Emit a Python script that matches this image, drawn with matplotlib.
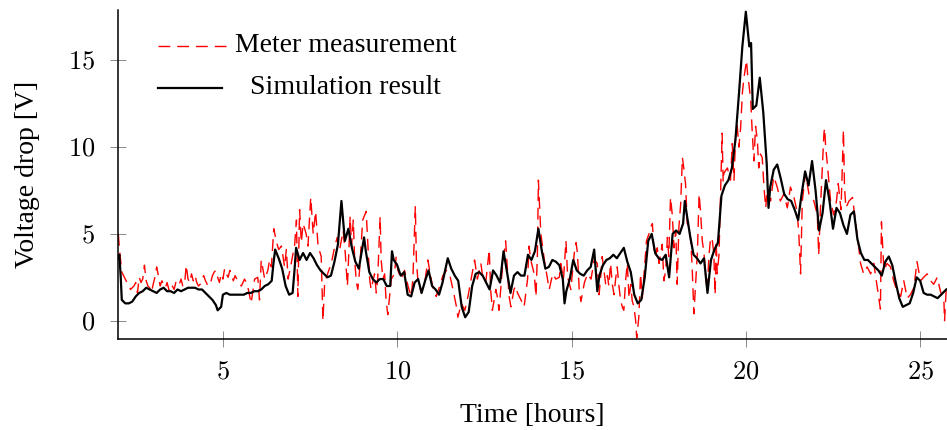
import matplotlib
matplotlib.use("Agg")
import matplotlib.pyplot as plt
from matplotlib.lines import Line2D
from matplotlib.ticker import FixedLocator, FuncFormatter

# ---- data (hours, volts) ----
meter_t = [2.00, 2.03, 2.07, 2.10, 2.15, 2.20, 2.25, 2.30, 2.35, 2.40, 2.45, 2.50, 2.55, 2.60, 2.65, 2.70,
           2.75, 2.80, 2.85, 2.90, 2.95, 3.00, 3.05, 3.10, 3.15, 3.20, 3.25, 3.30, 3.35, 3.40, 3.45, 3.50,
           3.55, 3.60, 3.65, 3.70, 3.75, 3.80, 3.85, 3.90, 3.95, 4.00, 4.05, 4.10, 4.15, 4.20, 4.25, 4.30,
           4.35, 4.40, 4.45, 4.50, 4.55, 4.60, 4.65, 4.70, 4.75, 4.80, 4.85, 4.90, 4.95, 5.00, 5.05, 5.10,
           5.15, 5.20, 5.25, 5.30, 5.35, 5.40,
           5.45, 5.53, 5.62, 5.70, 5.77, 5.81, 5.91, 6.00, 6.05, 6.10, 6.20, 6.29, 6.34, 6.39, 6.46, 6.53,
           6.60, 6.68, 6.77, 6.82, 6.87, 6.96, 7.06, 7.11, 7.15, 7.20, 7.25, 7.30, 7.39, 7.44, 7.52, 7.59,
           7.66, 7.73, 7.82, 7.87, 7.92, 8.02, 8.11, 8.21, 8.28, 8.35, 8.45, 8.51, 8.57, 8.59, 8.65, 8.69,
           8.74, 8.78, 8.83,
           8.87, 8.92, 9.01, 9.11, 9.21, 9.25, 9.35, 9.40, 9.44, 9.51, 9.54, 9.59, 9.64, 9.68, 9.73, 9.78,
           9.83, 9.92, 9.97, 10.02, 10.12, 10.21, 10.31, 10.40, 10.45, 10.52, 10.55, 10.59, 10.69, 10.79,
           10.88, 10.93, 11.03, 11.12, 11.22, 11.31, 11.41, 11.50, 11.60, 11.70, 11.74, 11.84, 11.94, 12.03,
           12.13, 12.22,
           12.30, 12.40, 12.44, 12.54, 12.64, 12.68, 12.73, 12.83, 12.87, 12.92, 13.02, 13.11, 13.21, 13.26,
           13.35, 13.40, 13.45, 13.55, 13.64, 13.69, 13.74, 13.78, 13.83, 13.93, 13.98, 14.02, 14.05, 14.12,
           14.22, 14.31, 14.36, 14.46, 14.55, 14.65, 14.69, 14.77, 14.84, 14.89, 14.98, 15.08, 15.13, 15.17,
           15.22, 15.27, 15.37, 15.46, 15.56, 15.65,
           15.74, 15.79, 15.84, 15.88, 15.98, 16.03, 16.07, 16.12, 16.17, 16.22, 16.27, 16.31, 16.36, 16.41,
           16.46, 16.50, 16.55, 16.60, 16.65, 16.70, 16.74, 16.79, 16.84, 16.87, 16.93, 16.98, 17.03, 17.08,
           17.15, 17.22, 17.27, 17.32, 17.36, 17.41, 17.46, 17.51, 17.56, 17.60, 17.65, 17.70, 17.75, 17.79,
           17.84, 17.89, 17.94, 17.99, 18.03, 18.08, 18.13, 18.18, 18.22, 18.27, 18.32, 18.37, 18.42, 18.46,
           18.51, 18.56, 18.61, 18.66, 18.70, 18.75, 18.80, 18.85, 18.89, 18.94, 18.99, 19.04, 19.08, 19.12,
           19.15,
           19.18, 19.23, 19.32, 19.35, 19.37, 19.47, 19.56, 19.61, 19.66, 19.71, 19.75, 19.80, 19.85, 19.90,
           19.94, 20.02, 20.05, 20.09, 20.14, 20.18, 20.23, 20.28, 20.33, 20.37, 20.42, 20.47, 20.52, 20.57,
           20.61, 20.71, 20.80, 20.90, 20.99, 21.09, 21.19, 21.28, 21.38, 21.47, 21.52, 21.57, 21.62, 21.71,
           21.81, 21.95, 22.05, 22.09, 22.14, 22.24, 22.26, 22.29, 22.33, 22.43, 22.52, 22.60, 22.65, 22.73,
           22.80, 22.83, 22.87, 22.96, 23.06, 23.15, 23.19, 23.24, 23.29, 23.38, 23.48, 23.58, 23.67, 23.77,
           23.81, 23.86, 23.89, 23.96, 24.05, 24.15, 24.24, 24.34, 24.44, 24.53, 24.63, 24.72, 24.82, 24.91,
           25.01, 25.10, 25.20, 25.30, 25.39, 25.49, 25.58, 25.68, 25.70, 25.75]
meter_v = [5.0, 4.2, 3.4, 2.8, 2.6, 2.4, 2.2, 2.1, 1.8, 1.9, 2.0, 2.2, 1.6, 2.5, 2.2, 2.4,
           3.2, 2.3, 2.0, 1.9, 1.6, 2.1, 2.5, 3.1, 2.6, 2.0, 2.3, 2.1, 1.9, 2.2, 1.8, 2.1,
           2.0, 1.8, 2.2, 2.0, 2.1, 2.4, 2.0, 2.1, 3.2, 2.4, 2.2, 2.7, 2.3, 2.6, 2.2, 2.0,
           2.1, 2.4, 2.6, 2.3, 2.1, 2.0, 2.2, 2.6, 2.8, 2.9, 2.5, 2.2, 2.7, 2.4, 3.0, 2.7,
           2.5, 2.9, 2.6, 2.3, 2.6, 2.4,
           2.2, 2.0, 2.4, 2.1, 1.4, 1.0, 2.4, 2.5, 1.2, 3.5, 2.4, 2.9, 3.5, 3.1, 5.3, 4.6,
           4.1, 4.3, 3.1, 4.1, 2.4, 3.3, 4.4, 5.8, 1.4, 6.4, 4.5, 5.6, 5.0, 4.3, 7.1, 5.0,
           6.3, 4.3, 3.7, 0.0, 2.2, 2.8, 3.3, 4.3, 4.8, 4.1, 5.2, 3.9, 2.0, 2.8, 6.0, 4.3,
           5.8, 3.5, 2.2,
           1.8, 2.9, 5.8, 6.3, 2.4, 1.8, 2.7, 1.6, 2.4, 6.0, 3.5, 2.4, 2.7, 1.2, 0.35, 1.4,
           2.4, 2.7, 3.7, 2.9, 2.4, 2.9, 2.0, 1.4, 2.4, 6.6, 3.5, 2.4, 1.6, 2.2,
           3.5, 2.9, 1.8, 1.4, 2.0, 2.6, 2.9, 2.7, 1.8, 0.8, 0.2, 1.0, 0.6, 1.4,
           2.5, 3.5,
           2.4, 3.3, 2.7, 2.2, 4.1, 1.8, 0.6, 1.8, 1.4, 0.6, 3.1, 4.6, 1.4, 0.8,
           1.8, 2.0, 1.6, 1.2, 0.8, 1.6, 2.4, 4.3, 3.5, 2.7, 1.4, 3.7, 8.1, 5.0,
           3.5, 2.4, 1.8, 2.7, 2.4, 2.5, 3.3, 2.4, 4.6, 2.5, 1.8, 3.9, 4.5, 3.9,
           1.8, 1.1, 2.2, 2.7, 2.4, 3.5,
           3.3, 1.5, 2.6, 3.7, 2.1, 2.6, 2.0, 3.3, 2.1, 1.5, 2.5, 3.1, 2.0, 1.15,
           0.77, 0.6, 2.3, 3.3, 1.3, 2.1, 1.15, 0.8, 0.0, -1.0, 0.2, 2.7, 1.3, 2.7,
           4.6, 5.0, 5.4, 5.6, 4.2, 3.7, 4.2, 3.3, 3.9, 4.4, 2.3, 2.9, 4.8, 3.7,
           7.1, 6.1, 4.2, 5.2, 2.1, 5.4, 6.7, 9.4, 8.8, 7.9, 5.6, 5.4, 4.6, 3.1,
           0.4, 2.1, 3.9, 7.3, 6.3, 4.6, 3.9, 2.5, 1.7, 3.7, 4.8, 4.6, 3.9, 1.5,
           4.6,
           2.7, 3.8, 10.8, 8.0, 8.5, 8.8, 8.1, 10.2, 8.1, 10.8, 11.3, 10.0, 11.1, 13.1,
           13.9, 15.0, 14.2, 13.6, 12.7, 11.0, 9.2, 11.2, 10.4, 8.8, 9.6, 9.4, 7.7, 6.5,
           7.5, 6.9, 8.3, 7.7, 6.9, 7.3, 6.5, 7.7, 7.1, 6.3, 5.0, 2.7, 6.9, 8.5,
           7.3, 6.9, 6.1, 3.8, 6.5, 10.8, 11.1, 10.0, 9.2, 6.9, 6.1, 6.9, 7.9, 6.4,
           11.0, 7.7, 6.5, 6.9, 7.1, 5.6, 5.0, 4.2, 3.3, 2.7, 3.1, 2.7, 3.3, 1.9,
           1.3, 0.67, 5.7, 2.9, 3.3, 3.1, 2.3, 1.7, 1.4, 2.3, 1.3, 1.5, 1.9, 3.4,
           2.3, 2.5, 2.7, 2.3, 2.1, 2.5, 1.7, 1.2, 0.0, 1.9]

sim_t = [2.00, 2.03, 2.07, 2.10, 2.20, 2.30, 2.40, 2.50, 2.60, 2.70, 2.80, 2.90, 3.00, 3.10, 3.20, 3.30,
         3.40, 3.50, 3.60, 3.70, 3.80, 3.90, 4.00, 4.10, 4.20, 4.30, 4.40, 4.50, 4.60, 4.70, 4.80, 4.85,
         4.90, 4.95, 5.00, 5.10, 5.20, 5.30, 5.40, 5.50, 5.60, 5.70, 5.80, 5.90, 6.00, 6.10, 6.20, 6.30,
         6.40, 6.45, 6.50, 6.60, 6.70, 6.80, 6.90, 7.00, 7.05, 7.10, 7.20, 7.30, 7.40, 7.50, 7.60, 7.70,
         7.80, 7.90, 8.00, 8.10, 8.20, 8.30, 8.40, 8.50, 8.60, 8.70, 8.80, 8.90, 9.00, 9.05, 9.10, 9.20,
         9.30, 9.40, 9.50, 9.60, 9.70, 9.80, 9.85, 9.90, 10.00, 10.10, 10.20, 10.30, 10.40, 10.50, 10.60,
         10.70, 10.80, 10.90, 11.00, 11.10, 11.20, 11.30, 11.45, 11.55, 11.65, 11.75, 11.85, 11.95, 12.05,
         12.15, 12.25, 12.35, 12.45, 12.55, 12.65, 12.75, 12.85, 12.95, 13.05, 13.15, 13.25, 13.35, 13.45,
         13.55, 13.65, 13.75, 13.85, 13.95, 14.05, 14.15, 14.25, 14.35, 14.45, 14.55, 14.65, 14.75, 14.80,
         14.85, 14.95, 15.05, 15.15, 15.25, 15.35, 15.45, 15.55, 15.65, 15.74, 15.80, 15.90, 16.00, 16.10,
         16.20, 16.30, 16.40, 16.50, 16.60, 16.70, 16.80, 16.90, 17.00, 17.10, 17.20, 17.30, 17.40, 17.50,
         17.60, 17.70, 17.80, 17.90, 18.00, 18.10, 18.20, 18.25, 18.30, 18.40, 18.50, 18.60, 18.70, 18.80,
         18.90, 19.00, 19.10, 19.20, 19.30, 19.40, 19.50, 19.60, 19.70, 19.80, 19.90, 20.00, 20.05, 20.10,
         20.15, 20.20, 20.30, 20.40, 20.50, 20.60, 20.65, 20.70, 20.80, 20.90, 21.00, 21.10, 21.20, 21.30,
         21.40, 21.50, 21.60, 21.70, 21.80, 21.90, 22.00, 22.10, 22.20, 22.30, 22.40, 22.50, 22.60, 22.70,
         22.80, 22.90, 23.00, 23.10, 23.20, 23.30, 23.40, 23.50, 23.60, 23.70, 23.80, 23.90, 24.00, 24.10,
         24.20, 24.30, 24.40, 24.50, 24.60, 24.70, 24.80, 24.90, 25.00, 25.10, 25.20, 25.30, 25.40, 25.50,
         25.60, 25.70, 25.75]
sim_v = [3.6, 3.8, 2.5, 1.2, 1.0, 1.0, 1.1, 1.4, 1.6, 1.7, 1.9, 1.8, 1.7, 1.6, 1.8, 1.9,
         1.7, 1.7, 1.6, 1.8, 1.7, 1.8, 1.9, 1.9, 1.9, 1.8, 1.8, 1.6, 1.4, 1.2, 0.9, 0.6,
         0.7, 0.8, 1.5, 1.6, 1.5, 1.5, 1.5, 1.5, 1.5, 1.6, 1.6, 1.7, 1.7, 1.8, 2.0, 2.1,
         2.3, 3.3, 4.1, 3.6, 3.0, 2.0, 1.5, 1.6, 2.8, 4.2, 3.5, 3.9, 3.5, 3.9, 3.6, 3.2,
         2.9, 2.7, 2.5, 2.6, 3.4, 4.4, 6.9, 4.6, 5.3, 4.2, 3.4, 3.0, 4.2, 4.8, 4.0, 2.8,
         2.4, 2.2, 2.4, 2.4, 2.0, 2.0, 4.0, 3.5, 3.2, 2.6, 2.8, 1.5, 1.4, 2.2, 2.4,
         1.6, 2.3, 2.9, 2.0, 1.8, 1.5, 2.2, 3.6, 3.0, 2.6, 2.3, 0.8, 0.2, 0.5,
         2.0, 2.7, 2.8, 2.6, 2.2, 1.8, 2.9, 2.6, 2.2, 4.0, 2.8, 1.6, 2.6, 2.8,
         2.6, 2.6, 3.8, 3.5, 4.0, 5.3, 4.0, 3.0, 3.1, 3.5, 3.4, 3.2, 2.4, 1.0,
         1.7, 2.4, 3.5, 2.9, 2.7, 2.6, 2.9, 3.1, 4.1, 1.7, 2.6, 3.2, 3.5, 3.6,
         3.8, 3.6, 3.9, 4.2, 3.4, 2.8, 1.5, 1.0, 1.2, 2.5, 4.6, 5.0, 3.9, 3.6,
         3.5, 3.8, 2.5, 5.0, 5.2, 5.0, 5.6, 6.9, 6.2, 4.9, 3.8, 3.6, 3.3, 3.6,
         1.6, 3.5, 4.1, 4.5, 7.2, 7.8, 8.1, 8.8, 10.4, 13.0, 15.8, 17.8, 16.8, 15.8,
         16.0, 12.2, 12.4, 14.0, 12.0, 9.0, 6.5, 7.7, 8.7, 9.0, 8.2, 7.3, 7.0, 6.9,
         6.4, 5.8, 7.3, 8.6, 7.8, 9.2, 7.5, 5.2, 6.2, 8.1, 6.9, 5.3, 6.5, 6.2,
         5.5, 5.0, 6.1, 6.3, 4.7, 3.9, 3.5, 3.5, 3.3, 3.1, 2.9, 2.6, 3.4, 3.7,
         3.2, 2.2, 1.3, 0.8, 0.9, 1.0, 1.6, 2.5, 2.3, 1.6, 1.5, 1.5, 1.4, 1.3,
         1.5, 1.7, 1.8]

x_ticks = [5, 10, 15, 20, 25]
y_ticks = [0, 5, 10, 15]
x_label = "Time [hours]"
y_label = "Voltage drop [V]"
legend_labels = ["Meter measurement", "Simulation result"]

# ---- style ----
plt.rcParams["font.family"] = ["Liberation Serif", "DejaVu Serif"]
plt.rcParams["mathtext.fontset"] = "cm"
plt.rcParams["lines.scale_dashes"] = False

RED = "#ff0000"
DASH = (8.5, 5.0)

W, H = 947, 430
fig = plt.figure(figsize=(W / 100, H / 100), dpi=100)
left, right, bottom, top = 118.3, 947, 339.3, 10
ax = fig.add_axes([left / W, 1 - bottom / H, (right - left) / W, (bottom - top) / H])

ax.plot(meter_t, meter_v, color=RED, lw=1.0, dashes=DASH)
ax.plot(sim_t, sim_v, color="black", lw=1.6)

ax.set_xlim(2.0, 25.77)
ax.set_ylim(-1.07, 17.9)

for s in ("top", "right"):
    ax.spines[s].set_visible(False)
for s in ("left", "bottom"):
    ax.spines[s].set_linewidth(1.1)

ax.xaxis.set_major_locator(FixedLocator(x_ticks))
ax.yaxis.set_major_locator(FixedLocator(y_ticks))
fmt = FuncFormatter(lambda v, p: r"$%d$" % v)
ax.xaxis.set_major_formatter(fmt)
ax.yaxis.set_major_formatter(fmt)
ax.tick_params(axis="both", direction="inout", length=11.5, width=0.7, color="#8a8a8a", labelsize=19)
ax.tick_params(axis="x", pad=10)
ax.tick_params(axis="y", pad=11)

ax.set_xlabel(x_label, fontsize=20, labelpad=14)
ax.set_ylabel(y_label, fontsize=20, labelpad=20)

# ---- legend (entries centred in their column, as in the reference) ----
def px_x(p):
    return (p - left) / (right - left)

def px_y(p):
    return (bottom - p) / (bottom - top)

rows = [(46, RED, DASH, 1.0, 232), (88, "black", None, 1.6, 222)]
for (ry, col, dsh, lw, xend), lab in zip(rows, legend_labels):
    ln = Line2D([px_x(158), px_x(xend)], [px_y(ry), px_y(ry)], transform=ax.transAxes,
                color=col, lw=lw, clip_on=False)
    if dsh is not None:
        ln.set_dashes(dsh)
    ax.add_line(ln)
    ax.text(px_x(345.5), px_y(ry), lab, transform=ax.transAxes, ha="center", va="center",
            fontsize=20)

fig.savefig("out.png", dpi=100)
